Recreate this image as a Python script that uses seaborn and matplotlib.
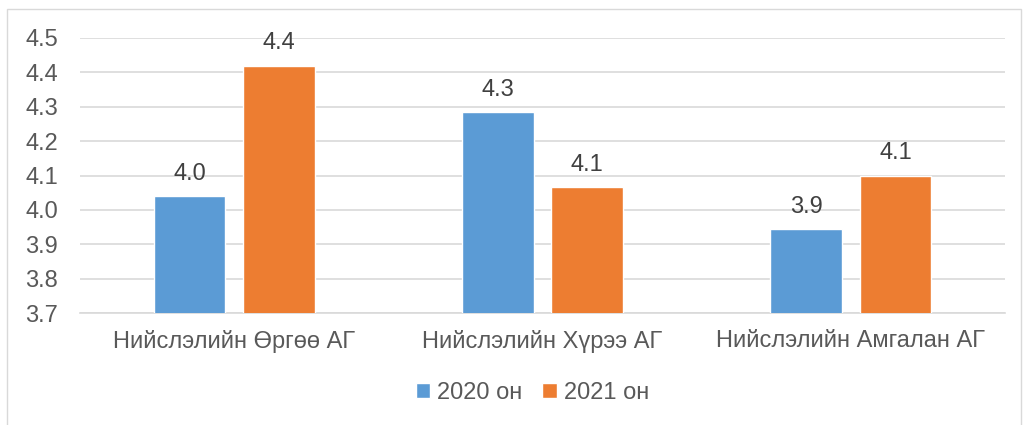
import matplotlib
matplotlib.use("Agg")
import matplotlib.pyplot as plt
import seaborn as sns
import pandas as pd
from matplotlib.patches import Rectangle

categories = ["Нийслэлийн Өргөө АГ", "Нийслэлийн Хүрээ АГ", "Нийслэлийн Амгалан АГ"]
series_names = ["2020 он", "2021 он"]
values_2020 = [4.04, 4.285, 3.945]
values_2021 = [4.42, 4.067, 4.10]
y_ticks = [3.7, 3.8, 3.9, 4.0, 4.1, 4.2, 4.3, 4.4, 4.5]

df = pd.DataFrame({
    "category": categories * 2,
    "series": [series_names[0]] * 3 + [series_names[1]] * 3,
    "value": values_2020 + values_2021,
})

sns.set_theme(style="white")
plt.rcParams['font.family'] = ['Liberation Sans', 'DejaVu Sans']
text_color = "#595959"
fs = 17

fig = plt.figure(figsize=(10.34, 4.25), dpi=100)
ax = fig.add_axes([80/1034, 1 - 313/425, (1005-80)/1034, (313-38)/425])

palette = {"2020 он": "#5b9bd5", "2021 он": "#ed7d31"}
sns.barplot(data=df, x="category", y="value", hue="series", palette=palette,
            width=0.58, gap=0.2, ax=ax, saturation=1, legend=True, zorder=3)

ax.set_ylim(3.7, 4.5)
ax.set_yticks(y_ticks)
ax.set_yticklabels([f"{t:.1f}" for t in y_ticks], color=text_color, fontsize=fs)
ax.yaxis.grid(True, color="#d9d9d9", linewidth=1.2, zorder=0)
ax.set_axisbelow(True)
for s in ["top", "right", "left"]:
    ax.spines[s].set_visible(False)
ax.spines["bottom"].set_color("#d9d9d9")
ax.spines["bottom"].set_linewidth(1.2)
ax.tick_params(axis="y", length=0, pad=16)
ax.tick_params(axis="x", length=0, pad=12)
for lbl in ax.get_xticklabels():
    lbl.set_color(text_color)
    lbl.set_fontsize(fs)
ax.set_xlabel("")
ax.set_ylabel("")

for cont in ax.containers:
    ax.bar_label(cont, fmt="%.1f", padding=8, color="#404040", fontsize=fs)

handles, labels = ax.get_legend_handles_labels()
ax.legend(handles, labels, loc="center", bbox_to_anchor=(0.489, (313 - 393) / 275),
          ncol=2, frameon=False, fontsize=fs, labelcolor=text_color,
          handlelength=0.6, handleheight=0.6, handletextpad=0.3, columnspacing=0.85)

fig.patches.append(Rectangle((7/1034, -0.01), (1021-7)/1034, 1 - 9/425 + 0.01,
                             transform=fig.transFigure, fill=False,
                             edgecolor="#d9d9d9", linewidth=1))

fig.savefig("out.png", dpi=100, facecolor="white")
